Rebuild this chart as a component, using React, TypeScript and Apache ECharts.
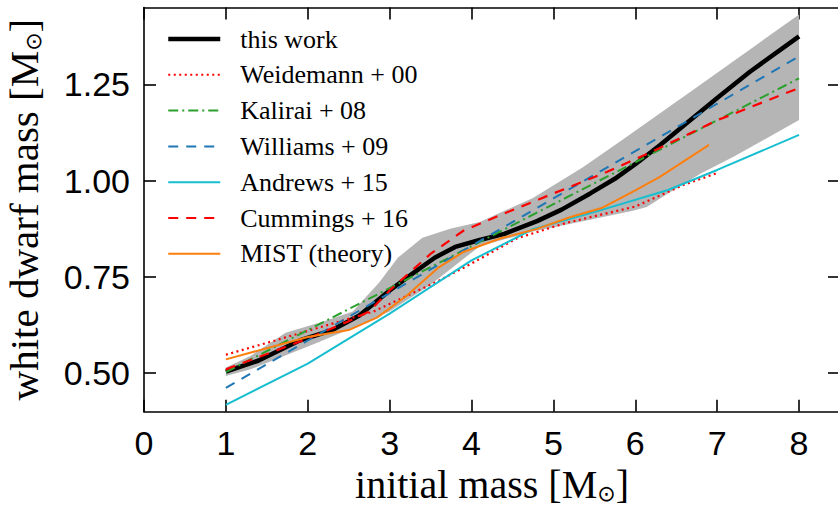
import React, { useEffect, useRef } from "react";
import * as echarts from "echarts";

// ---------- data ----------
const xTickValues = [0, 1, 2, 3, 4, 5, 6, 7, 8];
const yTickValues = [0.5, 0.75, 1.0, 1.25];

const legendNames = [
  "this work",
  "Weidemann + 00",
  "Kalirai + 08",
  "Williams + 09",
  "Andrews + 15",
  "Cummings + 16",
  "MIST (theory)",
];

const thisWork: number[][] = [
  [1.0, 0.504], [1.4, 0.533], [1.9, 0.585], [2.3, 0.612], [2.63, 0.65],
  [3.0, 0.715], [3.3, 0.762], [3.55, 0.8], [3.8, 0.828], [4.1, 0.846],
  [4.4, 0.862], [4.8, 0.895], [5.1, 0.925], [5.45, 0.967], [5.75, 1.005],
  [6.0, 1.043], [6.3, 1.092], [6.6, 1.145], [7.0, 1.215], [7.4, 1.283],
  [8.0, 1.375],
];

const bandUpper: number[][] = [
  [1.0, 0.515], [1.3, 0.545], [1.73, 0.605], [2.2, 0.635], [2.55, 0.66],
  [2.71, 0.698], [2.87, 0.735], [3.1, 0.8], [3.4, 0.852], [3.75, 0.876],
  [4.1, 0.893], [4.75, 0.955], [5.36, 1.035], [5.8, 1.1], [6.7, 1.235],
  [8.0, 1.432],
];

const bandLower: number[][] = [
  [1.0, 0.493], [1.3, 0.51], [2.1, 0.578], [2.6, 0.622], [3.0, 0.66],
  [3.5, 0.73], [4.1, 0.83], [4.75, 0.868], [5.36, 0.895], [5.97, 0.922],
  [6.14, 0.932], [6.4, 0.967], [6.8, 1.019], [7.2, 1.062], [7.6, 1.11],
  [8.0, 1.158],
];

const weidemann00: number[][] = [
  [1.0, 0.548], [1.6, 0.585], [2.4, 0.635], [2.8, 0.66], [3.2, 0.7],
  [3.6, 0.74], [4.0, 0.785], [4.55, 0.85], [5.15, 0.89], [6.0, 0.933],
  [6.6, 0.99], [7.0, 1.02],
];

const kalirai08: number[][] = [
  [1, 0.503], [2, 0.612], [3, 0.721], [4, 0.83], [5, 0.939],
  [6, 1.048], [7, 1.157], [8, 1.266],
];

const williams09: number[][] = [
  [1, 0.462], [2, 0.585], [3, 0.708], [4, 0.831], [5, 0.954],
  [6, 1.077], [7, 1.2], [8, 1.323],
];

const andrews15: number[][] = [
  [1.0, 0.418], [2.0, 0.525], [3.0, 0.655], [4.0, 0.793], [4.75, 0.874],
  [5.6, 0.925], [6.4, 0.976], [7.0, 1.028], [8.0, 1.119],
];

const cummings16: number[][] = [
  [1.0, 0.51], [2.0, 0.59], [2.5, 0.635], [2.75, 0.66], [3.0, 0.715],
  [3.5, 0.81], [3.9, 0.87], [4.4, 0.915], [5.0, 0.967], [5.6, 1.018],
  [6.2, 1.075], [7.0, 1.157], [8.0, 1.241],
];

const mist: number[][] = [
  [1.0, 0.536], [2.0, 0.594], [2.5, 0.612], [2.85, 0.645], [3.2, 0.7],
  [3.6, 0.775], [3.9, 0.815], [4.35, 0.85], [4.8, 0.875], [5.2, 0.905],
  [5.6, 0.93], [6.0, 0.975], [6.3, 1.01], [6.9, 1.093],
];

// ---------- chart ----------
const SERIF = "'Liberation Serif', 'DejaVu Serif', serif";
const SANS = "'Liberation Sans', Arial, sans-serif";

function lineSeries(name: string, data: number[][], color: string, width: number, type: any, z: number) {
  return {
    type: "line",
    name,
    data,
    showSymbol: false,
    symbol: "none",
    smooth: false,
    z,
    lineStyle: { color, width, type },
    itemStyle: { color },
    emphasis: { disabled: true },
  };
}

export default function App() {
  const ref = useRef<HTMLDivElement>(null);

  useEffect(() => {
    const chart = echarts.init(ref.current!, null, { renderer: "svg" });

    const axisLine = { show: true, onZero: false, lineStyle: { color: "#000", width: 1.6 } };
    const tickStyle = { color: "#000", width: 1.6 };
    const nameStyle = (size: number) => ({
      fontFamily: SERIF,
      fontSize: size,
      lineHeight: 40,
      color: "#000",
      rich: {
        sub: {
          fontFamily: "'DejaVu Sans', sans-serif",
          fontSize: 22,
          lineHeight: 16,
          verticalAlign: "bottom",
          color: "#000",
        },
      },
    });

    const option: any = {
      animation: false,
      backgroundColor: "#fff",
      grid: {
        left: 144,
        right: -2,
        top: 7.5,
        bottom: 94.3,
        containLabel: false,
        outerBoundsMode: "none",
      },
      legend: {
        orient: "vertical",
        left: 166,
        top: 26,
        padding: 0,
        itemWidth: 52,
        itemHeight: 26,
        itemGap: 9.8,
        data: legendNames.map((n, i) =>
          i === 0 ? { name: n, lineStyle: { width: 4.5 } } : { name: n }
        ),
        selectedMode: false,
        itemStyle: { opacity: 0 },
        textStyle: {
          fontFamily: SERIF,
          fontSize: 26,
          color: "#000",
          lineHeight: 26,
          padding: [0, 0, 0, 15],
        },
      },
      xAxis: [
        {
          type: "value",
          min: 0,
          max: 8.5,
          interval: 1,
          position: "bottom",
          name: "initial mass [M{sub|⊙}]",
          nameLocation: "middle",
          nameGap: 47,
          nameTextStyle: nameStyle(40),
          axisLine,
          axisTick: { show: true, inside: true, length: 12, lineStyle: tickStyle },
          axisLabel: {
            fontFamily: SANS,
            fontSize: 34,
            color: "#000",
            margin: 14,
            showMaxLabel: false,
            formatter: (v: number) => (xTickValues.includes(v) ? String(v) : ""),
          },
          splitLine: { show: false },
        },
        {
          type: "value",
          min: 0,
          max: 8.5,
          interval: 1,
          position: "top",
          axisLine,
          axisTick: { show: true, inside: true, length: 12, lineStyle: tickStyle },
          axisLabel: { show: false },
          splitLine: { show: false },
        },
      ],
      yAxis: [
        {
          type: "value",
          min: 0.4,
          max: 1.45,
          position: "left",
          name: "white dwarf mass [M{sub|⊙}]",
          nameLocation: "middle",
          nameGap: 100,
          nameTextStyle: nameStyle(41),
          axisLine,
          axisTick: { show: true, inside: true, length: 12, lineStyle: tickStyle, customValues: yTickValues },
          axisLabel: {
            fontFamily: SANS,
            fontSize: 34,
            color: "#000",
            margin: 14,
            customValues: yTickValues,
            formatter: (v: number) => v.toFixed(2),
          },
          splitLine: { show: false },
        },
        {
          type: "value",
          min: 0.4,
          max: 1.45,
          position: "right",
          axisLine,
          axisTick: { show: true, inside: true, length: 12, lineStyle: tickStyle, customValues: yTickValues },
          axisLabel: { show: false, customValues: yTickValues },
          splitLine: { show: false },
        },
      ],
      series: [
        {
          type: "custom",
          name: "band",
          silent: true,
          z: 1,
          data: [[bandUpper[0][0], bandUpper[0][1]]],
          renderItem: (_params: any, api: any) => {
            const pts = bandUpper
              .map((p) => api.coord(p))
              .concat(bandLower.slice().reverse().map((p) => api.coord(p)));
            return {
              type: "polygon",
              shape: { points: pts },
              style: { fill: "#b5b5b5", stroke: "none" },
              silent: true,
            };
          },
        },
        lineSeries(legendNames[0], thisWork, "#000000", 4.5, "solid", 3),
        lineSeries(legendNames[1], weidemann00, "#ff0000", 2.2, [2, 3.5], 4),
        lineSeries(legendNames[2], kalirai08, "#2ca02c", 2, [10, 4, 2, 4], 4),
        lineSeries(legendNames[3], williams09, "#1f77b4", 2, [10, 8], 4),
        lineSeries(legendNames[4], andrews15, "#17becf", 2, "solid", 4),
        lineSeries(legendNames[5], cummings16, "#ff0000", 2.2, [10, 8], 4),
        lineSeries(legendNames[6], mist, "#ff7f0e", 2, "solid", 4),
      ],
    };

    chart.setOption(option);
    return () => chart.dispose();
  }, []);

  return (
    <div
      ref={ref}
      style={{ position: "fixed", left: 0, top: 0, width: 838, height: 506, background: "#fff" }}
    />
  );
}
